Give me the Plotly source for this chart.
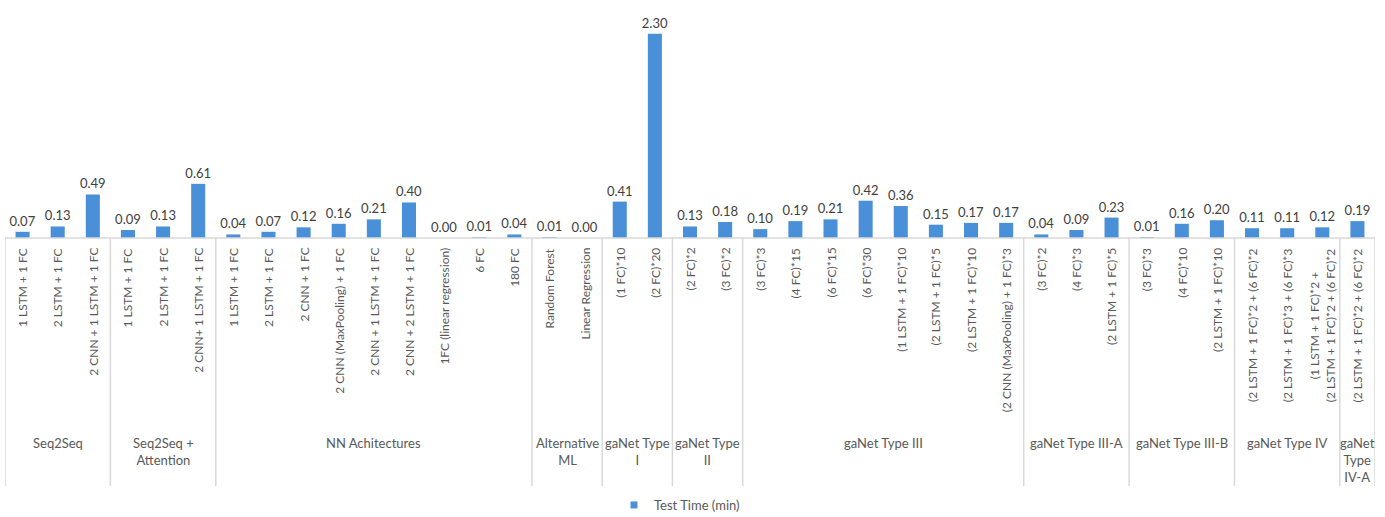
import plotly.graph_objects as go

# Model groups and the configurations inside each group
groups = [
    "Seq2Seq", "Seq2Seq +<br>Attention", "NN Achitectures", "Alternative<br>ML",
    "gaNet Type<br>I", "gaNet Type<br>II", "gaNet Type III", "gaNet Type III-A",
    "gaNet Type III-B", "gaNet Type IV", "gaNet<br>Type<br>IV-A",
]
group_members = [
    ["1 LSTM + 1 FC", "2 LSTM + 1 FC", "2 CNN + 1 LSTM + 1 FC"],
    ["1 LSTM + 1 FC", "2 LSTM + 1 FC", "2 CNN+ 1 LSTM + 1 FC"],
    ["1 LSTM + 1 FC", "2 LSTM + 1 FC", "2 CNN + 1 FC", "2 CNN (MaxPooling) + 1 FC",
     "2 CNN + 1 LSTM + 1 FC", "2 CNN + 2 LSTM + 1 FC", "1FC (linear regression)",
     "6 FC", "180 FC"],
    ["Random Forest", "Linear Regression"],
    ["(1 FC)*10", "(2 FC)*20"],
    ["(2 FC)*2", "(3 FC)*2"],
    ["(3 FC)*3", "(4 FC)*15", "(6 FC)*15", "(6 FC)*30", "(1 LSTM + 1 FC)*10",
     "(2 LSTM + 1 FC)*5", "(2 LSTM + 1 FC)*10", "(2 CNN (MaxPooling) + 1 FC)*3"],
    ["(3 FC)*2", "(4 FC)*3", "(2 LSTM + 1 FC)*5"],
    ["(3 FC)*3", "(4 FC)*10", "(2 LSTM + 1 FC)*10"],
    ["(2 LSTM + 1 FC)*2 + (6 FC)*2", "(2 LSTM + 1 FC)*3 + (6 FC)*3",
     "(1 LSTM + 1 FC)*2 +<br>(2 LSTM + 1 FC)*2 + (6 FC)*2"],
    ["(2 LSTM + 1 FC)*2 + (6 FC)*2"],
]

# Test time in minutes, one value per configuration (in the order above)
test_time = [
    0.07, 0.13, 0.49,
    0.09, 0.13, 0.61,
    0.04, 0.07, 0.12, 0.16, 0.21, 0.40, 0.00, 0.01, 0.04,
    0.01, 0.00,
    0.41, 2.30,
    0.13, 0.18,
    0.10, 0.19, 0.21, 0.42, 0.36, 0.15, 0.17, 0.17,
    0.04, 0.09, 0.23,
    0.01, 0.16, 0.20,
    0.11, 0.11, 0.12,
    0.19,
]

labels = [m for g in group_members for m in g]
n = len(labels)
xs = list(range(n))

W, H = 1385, 517
PLOT_LEFT, PLOT_RIGHT = 5, 1375
PLOT_TOP, PLOT_BOTTOM = 16, 238
FONT = "Lato, Carlito, Calibri, sans-serif"
TEXT = "#595959"
VALUE_TEXT = "#404040"
LINE = "#D9D9D9"
BAR = "#4A90D9"


def py(pix):
    """Convert a pixel row of the page into paper y coordinates."""
    return (PLOT_BOTTOM - pix) / (PLOT_BOTTOM - PLOT_TOP)


def px(pix):
    """Convert a pixel column of the page into paper x coordinates."""
    return (pix - PLOT_LEFT) / (PLOT_RIGHT - PLOT_LEFT)


fig = go.Figure()
fig.add_trace(go.Bar(
    x=xs, y=test_time, width=0.4,
    marker=dict(color=BAR, line=dict(width=0)),
    text=[f"{v:.2f}" for v in test_time],
    textposition="outside", cliponaxis=False, constraintext="none",
    textfont=dict(family=FONT, size=13, color=VALUE_TEXT),
    name="Test Time (min)", showlegend=False,
))
# Legend entry with a small square key
fig.add_trace(go.Scatter(
    x=[None], y=[None], mode="markers", name="Test Time (min)",
    marker=dict(symbol="square", size=7, color=BAR), showlegend=True,
))

annotations = []
shapes = []

# Rotated configuration labels under each bar
for i, lab in enumerate(labels):
    annotations.append(dict(
        x=i, xref="x", y=py(246), yref="paper", text=lab, textangle=-90,
        showarrow=False, xanchor="center", yanchor="top", align="center",
        font=dict(family=FONT, size=12, color=TEXT),
    ))

# Group labels and the separators between groups
start = 0
bounds = [-0.5]
for g, members in zip(groups, group_members):
    centre = start + (len(members) - 1) / 2
    annotations.append(dict(
        x=centre, xref="x", y=py(433), yref="paper", text=g,
        showarrow=False, xanchor="center", yanchor="top", align="center",
        font=dict(family=FONT, size=13, color=TEXT),
    ))
    start += len(members)
    bounds.append(start - 0.5)

for b in bounds:
    shapes.append(dict(
        type="line", xref="x", yref="paper", x0=b, x1=b,
        y0=0, y1=py(486), line=dict(color=LINE, width=1.5),
    ))

# Horizontal category axis line
shapes.append(dict(
    type="line", xref="x", yref="paper", x0=-0.5, x1=n - 0.5,
    y0=0, y1=0, line=dict(color=LINE, width=1.5),
))

fig.update_layout(
    width=W, height=H,
    margin=dict(l=PLOT_LEFT, r=W - PLOT_RIGHT, t=PLOT_TOP, b=H - PLOT_BOTTOM,
                autoexpand=False),
    paper_bgcolor="white", plot_bgcolor="white",
    xaxis=dict(range=[-0.5, n - 0.5], showticklabels=False, showgrid=False,
               zeroline=False, showline=False, ticks=""),
    yaxis=dict(range=[0, 2.5], visible=False, showgrid=False, zeroline=False),
    annotations=annotations,
    shapes=shapes,
    showlegend=True,
    legend=dict(orientation="h", x=px(614), xanchor="left", y=py(505),
                yanchor="middle", font=dict(family=FONT, size=13, color=TEXT),
                itemwidth=30, bgcolor="rgba(0,0,0,0)"),
    font=dict(family=FONT, color=TEXT),
)

fig.write_html("out.html")
